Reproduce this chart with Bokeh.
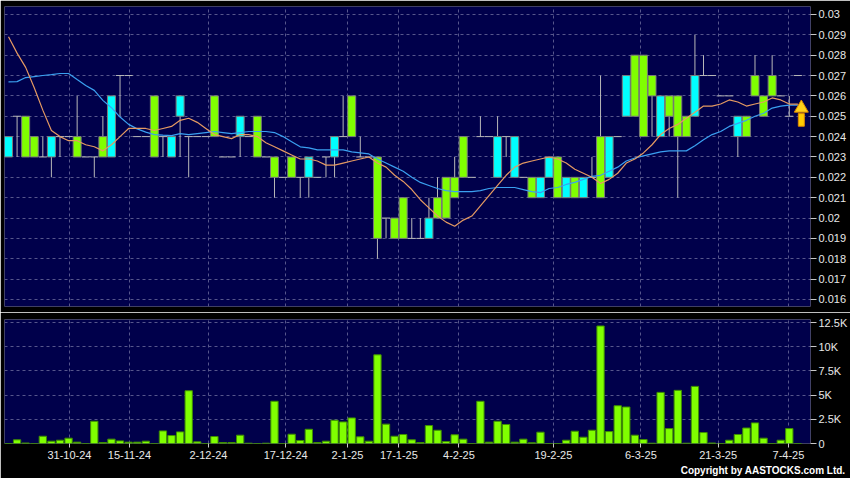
from bokeh.plotting import figure
from bokeh.models import Range1d, FixedTicker, Title
from bokeh.layouts import column
from bokeh.embed import file_html
from bokeh.resources import INLINE

# ---------------- data ----------------
opens = [0.023, 0.025, 0.025, 0.024, 0.023, 0.023, 0.024, 0.024, 0.024, 0.023,
         0.023, 0.024, 0.023, 0.027, 0.027, 0.024, 0.024, 0.026, 0.024, 0.023,
         0.025, 0.024, 0.024, 0.024, 0.026, 0.023, 0.023, 0.024, 0.024, 0.025,
         0.023, 0.023, 0.022, 0.023, 0.022, 0.022, 0.022, 0.023, 0.023, 0.024,
         0.026, 0.023, 0.023, 0.023, 0.020, 0.020, 0.021, 0.019, 0.019, 0.019,
         0.021, 0.022, 0.022, 0.024, 0.022, 0.024, 0.024, 0.022, 0.024, 0.022,
         0.022, 0.022, 0.021, 0.022, 0.023, 0.021, 0.022, 0.021, 0.022, 0.024,
         0.022, 0.024, 0.025, 0.028, 0.028, 0.027, 0.024, 0.026, 0.026, 0.025,
         0.025, 0.027, 0.027, 0.026, 0.026, 0.024, 0.025, 0.027, 0.026, 0.027,
         0.026, 0.025, 0.027]
highs = [0.024, 0.025, 0.025, 0.024, 0.024, 0.024, 0.024, 0.024, 0.026, 0.023,
         0.023, 0.025, 0.026, 0.027, 0.027, 0.024, 0.024, 0.026, 0.024, 0.024,
         0.026, 0.024, 0.024, 0.024, 0.026, 0.023, 0.023, 0.025, 0.024, 0.025,
         0.023, 0.023, 0.022, 0.023, 0.022, 0.023, 0.022, 0.023, 0.024, 0.026,
         0.026, 0.024, 0.023, 0.023, 0.020, 0.020, 0.021, 0.020, 0.020, 0.021,
         0.022, 0.022, 0.023, 0.024, 0.022, 0.025, 0.024, 0.025, 0.024, 0.024,
         0.022, 0.022, 0.022, 0.023, 0.023, 0.022, 0.022, 0.022, 0.023, 0.027,
         0.024, 0.024, 0.027, 0.028, 0.028, 0.027, 0.026, 0.026, 0.026, 0.025,
         0.029, 0.028, 0.027, 0.026, 0.026, 0.025, 0.025, 0.028, 0.026, 0.028,
         0.026, 0.026, 0.027]
lows = [0.023, 0.023, 0.023, 0.023, 0.023, 0.022, 0.023, 0.024, 0.023, 0.023,
        0.022, 0.023, 0.023, 0.025, 0.027, 0.024, 0.024, 0.023, 0.023, 0.023,
        0.023, 0.022, 0.024, 0.024, 0.024, 0.023, 0.023, 0.023, 0.024, 0.023,
        0.023, 0.021, 0.022, 0.022, 0.021, 0.021, 0.022, 0.022, 0.022, 0.024,
        0.024, 0.023, 0.023, 0.018, 0.019, 0.019, 0.019, 0.019, 0.019, 0.019,
        0.020, 0.020, 0.021, 0.022, 0.022, 0.024, 0.024, 0.022, 0.023, 0.022,
        0.022, 0.021, 0.021, 0.022, 0.021, 0.021, 0.021, 0.021, 0.022, 0.021,
        0.022, 0.024, 0.025, 0.025, 0.024, 0.024, 0.024, 0.024, 0.021, 0.024,
        0.025, 0.027, 0.027, 0.026, 0.026, 0.023, 0.024, 0.026, 0.025, 0.026,
        0.026, 0.025, 0.027]
closes = [0.024, 0.025, 0.023, 0.023, 0.023, 0.024, 0.024, 0.024, 0.023, 0.023,
          0.023, 0.023, 0.026, 0.027, 0.027, 0.024, 0.024, 0.023, 0.024, 0.024,
          0.026, 0.024, 0.024, 0.024, 0.024, 0.023, 0.023, 0.025, 0.024, 0.023,
          0.023, 0.022, 0.022, 0.022, 0.022, 0.023, 0.022, 0.023, 0.024, 0.024,
          0.024, 0.023, 0.023, 0.019, 0.020, 0.019, 0.019, 0.019, 0.019, 0.020,
          0.020, 0.020, 0.021, 0.022, 0.022, 0.024, 0.024, 0.024, 0.024, 0.024,
          0.022, 0.021, 0.022, 0.023, 0.021, 0.022, 0.021, 0.022, 0.022, 0.021,
          0.024, 0.024, 0.027, 0.025, 0.024, 0.026, 0.026, 0.025, 0.024, 0.024,
          0.027, 0.027, 0.027, 0.026, 0.026, 0.025, 0.024, 0.026, 0.025, 0.026,
          0.026, 0.025, 0.027]
volumes = [0, 380, 50, 0, 750, 240, 340, 550, 140, 0,
           2300, 100, 450, 270, 140, 140, 240, 0, 1300, 820,
           1200, 5450, 170, 0, 720, 100, 100, 860, 30, 0,
           30, 4360, 0, 960, 310, 1470, 100, 240, 2400, 2230,
           2640, 690, 240, 9160, 2000, 750, 930, 380, 100, 1850,
           1370, 200, 900, 450, 0, 4360, 140, 2300, 1960, 140,
           450, 70, 1170, 0, 0, 340, 1270, 650, 1370, 12140,
           1230, 3900, 3770, 860, 410, 30, 5280, 1540, 5490, 30,
           5900, 1130, 50, 0, 340, 930, 1600, 2130, 550, 0,
           340, 1540, 0]

ma10_head = [0.0289, 0.0281, 0.0274, 0.0264, 0.0253, 0.0243, 0.0240, 0.0238, 0.0238]
ma20_head = [0.02669, 0.0267, 0.0269, 0.02695, 0.0270, 0.02704, 0.0271, 0.0271,
             0.0268, 0.02651, 0.02627, 0.02578, 0.02542, 0.02496, 0.0246,
             0.02438, 0.02422, 0.0241, 0.02407]

date_ticks = [7.1, 14.1, 23.3, 32.3, 39.5, 45.5, 52.5, 63.5, 73.7, 82.7, 90.9]
date_labels = ["31-10-24", "15-11-24", "2-12-24", "17-12-24", "2-1-25", "17-1-25",
               "4-2-25", "19-2-25", "6-3-25", "21-3-25", "7-4-25"]
price_ticks = [0.016, 0.017, 0.018, 0.019, 0.020, 0.021, 0.022, 0.023,
               0.024, 0.025, 0.026, 0.027, 0.028, 0.029, 0.030]
price_labels = ["0.016", "0.017", "0.018", "0.019", "0.02", "0.021", "0.022", "0.023",
                "0.024", "0.025", "0.026", "0.027", "0.028", "0.029", "0.03"]
vol_ticks = [0, 2500, 5000, 7500, 10000, 12500]
vol_labels = ["0", "2.5K", "5K", "7.5K", "10K", "12.5K"]

# ---------------- derived ----------------
n = len(closes)
idx = list(range(n))


def sma(vals, w, head):
    out = list(head)
    for i in range(len(head), len(vals)):
        out.append(sum(vals[i - w + 1:i + 1]) / w)
    return out


ma10 = sma(closes, 10, ma10_head)
ma20 = sma(closes, 20, ma20_head)

BG = "#000000"
NAVY = "#00004b"
GRID = "#56568c"
WICK = "#b8b8b8"
UPC = "#00ffff"
DNC = "#80ff00"
TXT = "#e8e8e8"
FONT = "Liberation Sans"

xr = Range1d(-0.466, 93.47)

p = figure(width=850, height=312, x_range=xr, y_range=Range1d(0.015656, 0.03039),
           output_backend="svg", toolbar_location=None,
           x_axis_location=None, y_axis_location="right",
           min_border_left=4, min_border_right=40, min_border_top=6, min_border_bottom=6,
           background_fill_color=NAVY, border_fill_color=BG, outline_line_color=None)

q = figure(width=850, height=166, x_range=xr, y_range=Range1d(0, 12810),
           output_backend="svg", toolbar_location=None, y_axis_location="right",
           min_border_left=4, min_border_right=40, min_border_top=7, min_border_bottom=35,
           background_fill_color=NAVY, border_fill_color=BG, outline_line_color=None)

for fig, ticks, labels in ((p, price_ticks, price_labels), (q, vol_ticks, vol_labels)):
    ax = fig.yaxis[0]
    ax.ticker = FixedTicker(ticks=ticks)
    ax.major_label_overrides = {t: l for t, l in zip(ticks, labels)}
    ax.axis_line_color = None
    ax.major_tick_line_color = "#c8c8c8"
    ax.major_tick_in = 0
    ax.major_tick_out = 6
    ax.minor_tick_line_color = None
    ax.major_label_text_color = TXT
    ax.major_label_text_font = FONT
    ax.major_label_text_font_size = "11px"
    ax.major_label_standoff = 2
    fig.ygrid.ticker = FixedTicker(ticks=ticks)
    fig.ygrid.grid_line_color = GRID
    fig.ygrid.grid_line_dash = "3 3"
    fig.xgrid.ticker = FixedTicker(ticks=date_ticks)
    fig.xgrid.grid_line_color = GRID
    fig.xgrid.grid_line_dash = "3 3"

xa = q.xaxis[0]
xa.ticker = FixedTicker(ticks=date_ticks)
xa.major_label_overrides = {t: l for t, l in zip(date_ticks, date_labels)}
xa.axis_line_color = None
xa.major_tick_line_color = "#c8c8c8"
xa.major_tick_in = 0
xa.major_tick_out = 4
xa.minor_tick_line_color = None
xa.major_label_text_color = TXT
xa.major_label_text_font = FONT
xa.major_label_text_font_size = "11px"
xa.major_label_standoff = 3

q.add_layout(Title(text="Copyright by AASTOCKS.com Ltd.", align="right", offset=-35,
                   text_color="#ffffff", text_font=FONT, text_font_size="10px",
                   text_font_style="bold", standoff=2), "below")

# ---------------- candles ----------------
p.segment(x0=idx, y0=highs, x1=idx, y1=lows, line_color=WICK, line_width=1)

bx, btop, bbot, bcol = [], [], [], []
dx0, dx1, dy = [], [], []
for i in idx:
    o, c = opens[i], closes[i]
    if c > o:
        bx.append(i); btop.append(c); bbot.append(o); bcol.append(UPC)
    elif c < o:
        bx.append(i); btop.append(o); bbot.append(c); bcol.append(DNC)
    else:
        dx0.append(i - 0.47); dx1.append(i + 0.47); dy.append(o)

p.vbar(x=bx, top=btop, bottom=bbot, width=0.93, fill_color=bcol, line_color="#7a7a7a", line_width=1)
p.segment(x0=dx0, y0=dy, x1=dx1, y1=dy, line_color=WICK, line_width=1)

p.line(idx, ma20, line_color="#3aa0f0", line_width=1.2)
p.line(idx, ma10, line_color="#e59a62", line_width=1.2)

# last-price arrow marker
ax_x = idx[-1] + 0.4
tip = ma10[-1] + 0.0001
p.rect(x=[ax_x], y=[tip - 0.00088], width=6, height=0.00062, width_units="screen",
       fill_color="#ffcc00", line_color="#e08a00")
p.scatter(x=[ax_x], y=[tip - 0.0003], marker="triangle", size=14,
          fill_color="#ffd21a", line_color="#e08a00")

# ---------------- volume ----------------
q.vbar(x=idx, top=volumes, width=0.85, fill_color=DNC, line_color="#3f8f00", line_width=1)

layout = column(p, q)
open("out.html", "w").write(file_html(layout, INLINE))
